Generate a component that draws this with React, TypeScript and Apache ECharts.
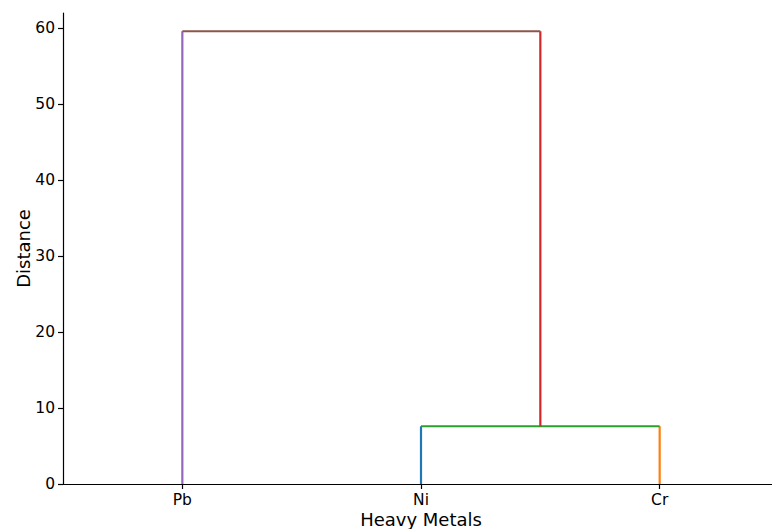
import React, { useEffect, useRef } from "react";
import * as echarts from "echarts";

const leaves = ["Pb", "Ni", "Cr"];
const leafPositions = [5, 15, 25];
const mergeHeights = [7.6, 59.6];
const yTicks = [0, 10, 20, 30, 40, 50, 60];
const segmentColors = ["#1f77b4", "#ff7f0e", "#2ca02c", "#9467bd", "#d62728", "#8c564b"];

export default function App() {
  const ref = useRef<HTMLDivElement>(null);
  useEffect(() => {
    if (!ref.current) return;
    const chart = echarts.init(ref.current, null, { renderer: "svg" });
    const [pb, ni, cr] = leafPositions;
    const [h1, h2] = mergeHeights;
    const mid = (ni + cr) / 2;
    const segments: number[][][] = [
      [[ni, 0], [ni, h1]],
      [[cr, 0], [cr, h1]],
      [[ni, h1], [cr, h1]],
      [[pb, 0], [pb, h2]],
      [[mid, h1], [mid, h2]],
      [[pb, h2], [mid, h2]],
    ];
    const font = "DejaVu Sans";
    chart.setOption({
      animation: false,
      grid: { left: 63, top: 13, width: 716, height: 471, outerBoundsMode: "none", containLabel: false },
      xAxis: {
        type: "value",
        min: 0,
        max: 30,
        name: "Heavy Metals",
        nameLocation: "middle",
        nameGap: 26,
        nameMoveOverlap: false,
        nameTextStyle: { fontFamily: font, fontSize: 18, color: "#000" },
        splitLine: { show: false },
        axisLine: { lineStyle: { color: "#000", width: 1.2 } },
        axisTick: { customValues: leafPositions, length: 5, lineStyle: { color: "#000", width: 1.2 } },
        axisLabel: {
          customValues: leafPositions,
          formatter: (v: number) => leaves[leafPositions.indexOf(v)] ?? "",
          fontFamily: font,
          fontSize: 15.5,
          color: "#000",
          margin: 8,
        },
      },
      yAxis: {
        type: "value",
        min: 0,
        max: 62,
        name: "Distance",
        nameLocation: "middle",
        nameGap: 31,
        nameMoveOverlap: false,
        nameTextStyle: { fontFamily: font, fontSize: 18, color: "#000" },
        splitLine: { show: false },
        axisLine: { show: true, lineStyle: { color: "#000", width: 1.2 } },
        axisTick: { show: true, customValues: yTicks, length: 5, lineStyle: { color: "#000", width: 1.2 } },
        axisLabel: {
          customValues: yTicks,
          fontFamily: font,
          fontSize: 15.5,
          color: "#000",
          margin: 8,
        },
      },
      series: segments.map((seg, i) => ({
        type: "line",
        data: seg,
        symbol: "none",
        lineStyle: { color: segmentColors[i], width: 2.2 },
        z: 2 + i,
      })),
    });
    return () => chart.dispose();
  }, []);
  return (
    <div
      ref={ref}
      style={{ position: "absolute", left: 0, top: 0, width: 772, height: 529 }}
    />
  );
}
